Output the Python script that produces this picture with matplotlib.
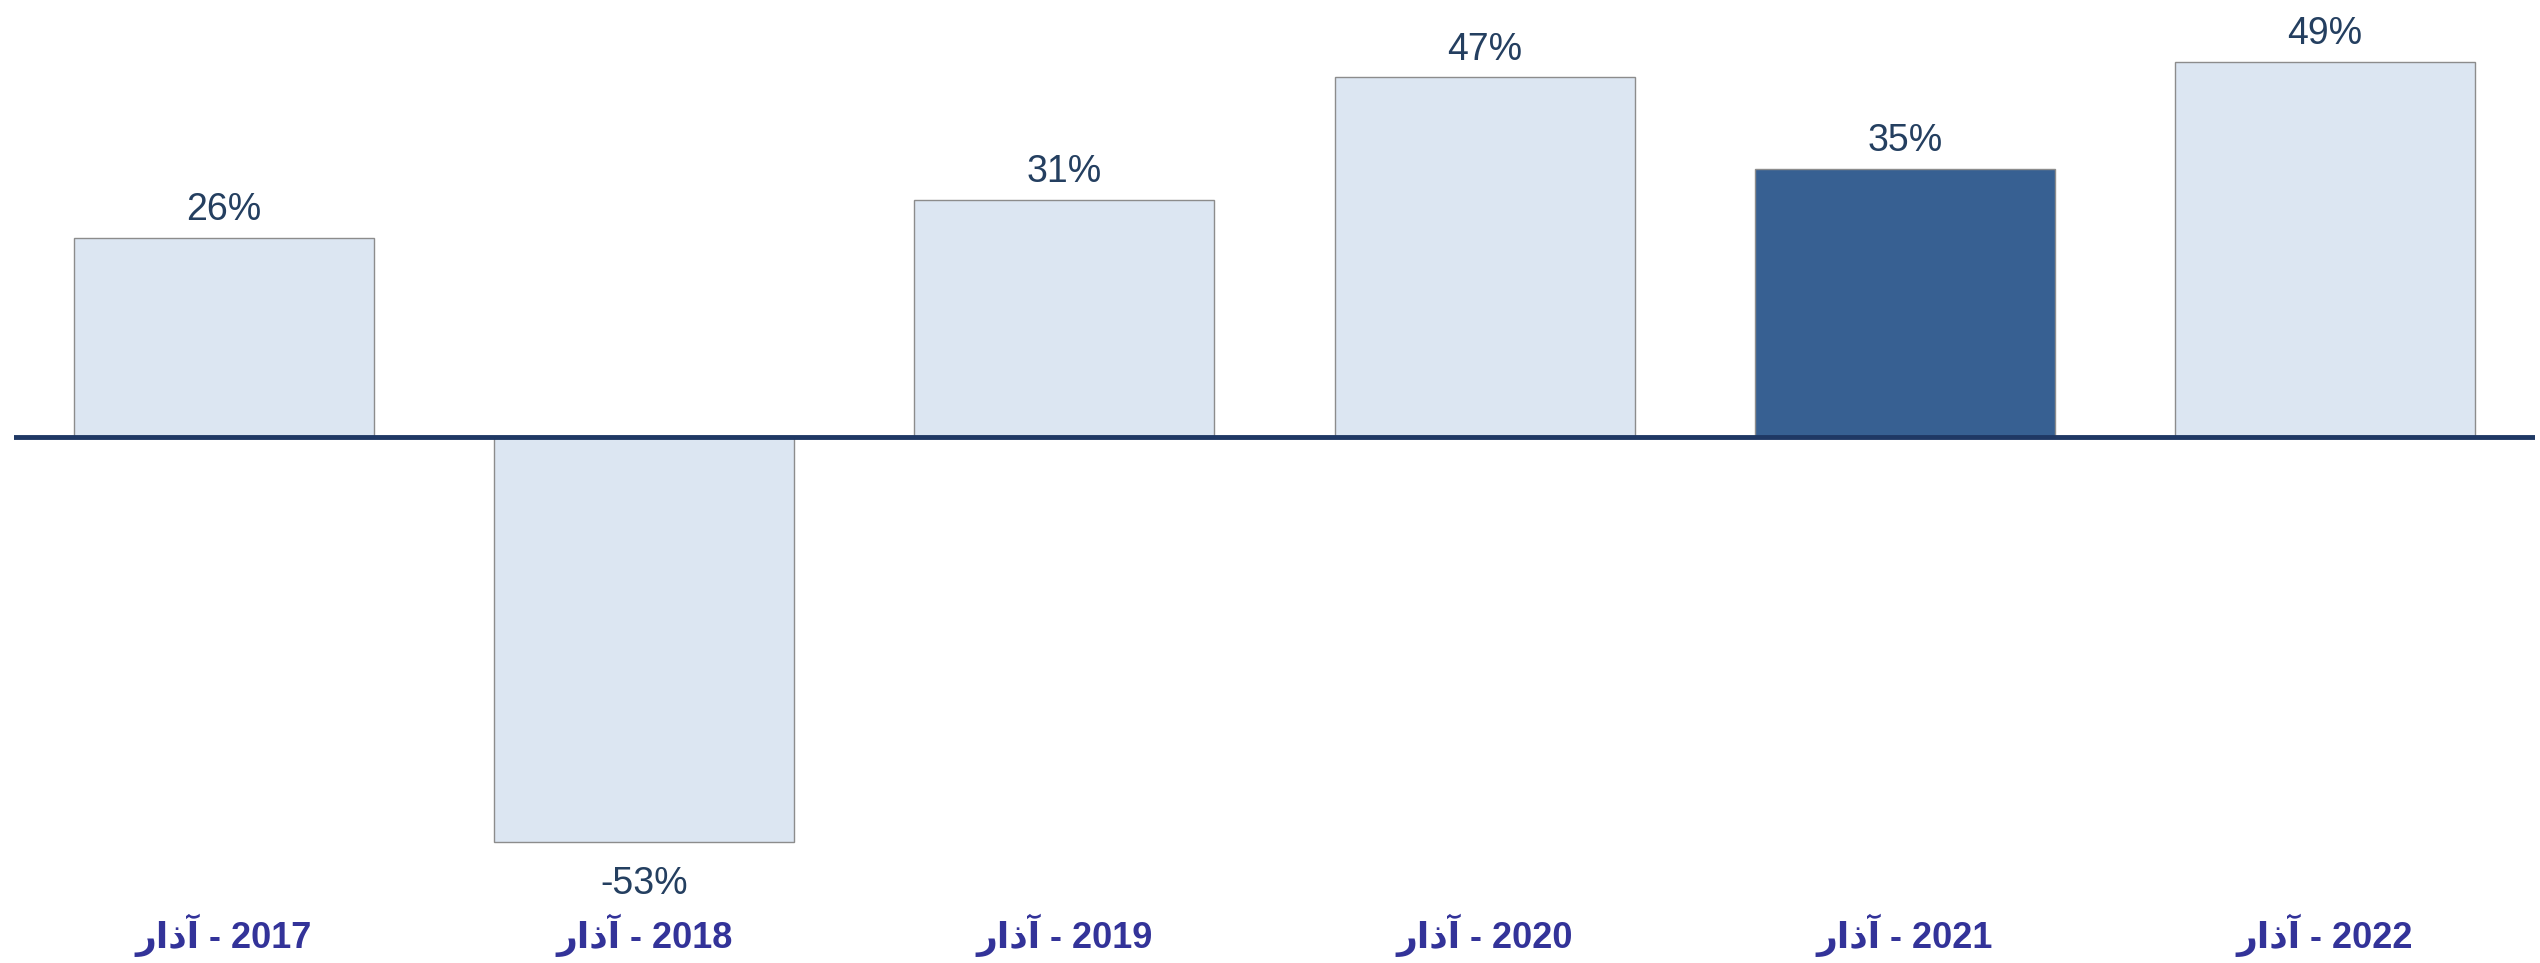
import matplotlib.pyplot as plt

# values
years = ["2017", "2018", "2019", "2020", "2021", "2022"]
month = "آذار"
growth = [26, -53, 31, 47, 35, 49]
highlight = "2021"

LIGHT = "#DCE6F2"
DARK = "#376092"
EDGE = "#8C8C8C"
TEXT = "#243F60"
CAT = "#333399"

plt.rcParams["font.family"] = ["Liberation Sans", "DejaVu Sans"]

fig = plt.figure(figsize=(25.4, 9.63), dpi=100)
ax = fig.add_axes([14 / 2540, 58 / 963, 2521 / 2540, 905 / 963])

x = range(len(years))
colors = [DARK if y == highlight else LIGHT for y in years]
bars = ax.bar(x, growth, width=0.714, color=colors, edgecolor=EDGE, linewidth=1.0, zorder=2)

ax.axhline(0, color="#1F3864", lw=3.5, zorder=3)

for b, v in zip(bars, growth):
    cx = b.get_x() + b.get_width() / 2
    if v >= 0:
        ax.annotate(f"{v}%", (cx, v), xytext=(0, 7), textcoords="offset points",
                    ha="center", va="bottom", fontsize=27, color=TEXT)
    else:
        ax.annotate(f"{v}%", (cx, v), xytext=(0, -17), textcoords="offset points",
                    ha="center", va="top", fontsize=27, color=TEXT)

# matplotlib does no bidi reordering, so the Arabic word is put in visual order
month_vis = month[::-1]

ax.set_xlim(-0.5, 5.5)
ax.set_ylim(-61.2, 57.1)
ax.set_xticks(list(x))
ax.set_xticklabels([f"{month_vis} - {y}" for y in years], fontsize=26,
                   fontweight="bold", color=CAT)
ax.tick_params(axis="x", length=0, pad=6)
ax.set_yticks([])
for s in ax.spines.values():
    s.set_visible(False)

fig.savefig("out.png", dpi=100)
